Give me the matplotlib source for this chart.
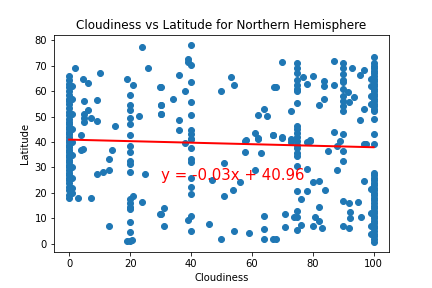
import numpy as np
import matplotlib
matplotlib.use("Agg")
import matplotlib.pyplot as plt

# Cloudiness (%) and latitude, grouped by column
cloud_0 = [0]*42 + [1]*10
lat_0 = [66, 64.5, 63, 61.5, 60, 58.5, 57, 56, 55, 53.5, 52, 50.5, 49, 48, 47, 46,
         45, 44, 43, 42, 41, 40, 39, 38, 37, 36, 35, 34, 33, 32, 31, 30, 29, 28,
         27, 26, 25, 24, 22.5, 21, 19, 18,
         62, 57, 51, 45, 40, 35, 30, 26, 22, 20]

cloud_20 = [19, 21, 20, 20, 20, 20, 20, 20, 20, 20, 20, 20, 20, 21, 20, 20, 20, 20,
            20, 20, 19, 20, 20.5]
lat_20 = [64.8, 62.6, 58.7, 54.7, 52.8, 49.5, 47.1, 42.9, 38.6, 35.9, 32.7, 31.4,
          28.1, 18.9, 17.6, 16, 14.5, 13.5, 8.4, 4.5, 1.2, 1.2, 1.5]

cloud_40 = [40, 39, 39, 40, 40, 40, 40, 40, 40, 40, 40, 38, 40, 40, 40, 40, 40, 40,
            40, 39, 40]
lat_40 = [78.2, 72.7, 71.4, 70.3, 63.8, 55.9, 50.7, 44.9, 43, 41.3, 41.2, 39.6,
          37.7, 33.3, 32.3, 25.7, 22.2, 19.6, 11, 9.4, 5]

cloud_75 = [75]*22
lat_75 = [71.3, 69, 67, 64.5, 62.5, 61, 60.2, 55.2, 46.5, 45, 43.5, 42, 40.6, 39,
          37.5, 35.6, 34.6, 30.7, 20.9, 13, 10.4, 5.4]

cloud_90 = [90, 90, 90, 90, 90, 90, 90, 90, 90, 90, 90, 89, 88, 90, 90, 88, 90, 90]
lat_90 = [71.1, 69, 66.9, 64.6, 63.5, 60.8, 58, 56, 54, 52.4, 43.3, 40.6, 38.6,
          36.6, 32.7, 29, 16.9, 6.8]

cloud_100 = [100]*52 + [99, 99, 99, 99, 99, 99, 99, 99, 97, 97, 97]
lat_100 = [73.6, 71, 70, 69, 68, 67, 66, 65, 64, 63, 62, 61, 60, 59, 58, 57, 56,
           55, 54, 53, 52.4, 49, 43, 39.3, 28, 27, 26, 25, 24, 23, 22, 21, 20, 19,
           18, 17, 16, 15, 14, 13, 12, 11, 10, 9, 8, 7, 6, 5, 4, 3, 2, 0.5,
           65, 62, 58, 55, 21.5, 7, 4, 12, 68.4, 53, 39.3]

cloud_other = [2, 4.6, 6.2, 10, 4.8, 9, 6.2, 5, 5, 5, 7.3, 9.2, 15.1, 23, 24, 26,
               3.8, 29.7, 30, 30, 4.6, 4, 13.9, 13.1, 13.1, 11.2, 9.2, 25, 3, 7.3,
               24, 29.7, 13.1,
               36, 30.3, 38.2, 34.1, 30.3, 30.3, 36, 36, 53.1, 54.1, 50, 63.9, 62,
               65, 60.9, 62, 58, 66.9, 67.4,
               50.8, 57.8, 57.8, 62, 62.9, 60.9, 56, 53.9, 50.8, 47, 31.1, 30.1,
               31.1, 45.9, 49.9, 54, 59.1, 63.9, 63.9, 64, 67,
               69.8, 76.7, 80, 78, 83.8, 83.8, 86.9, 67.8, 87, 92.8, 95.6, 91.7,
               93.7, 92, 83.8, 82, 72.9, 95.6, 86.9, 79, 73, 67, 70, 70, 73, 78.2,
               79, 85, 97.5, 78.2, 80, 82.2, 78, 76.2, 84, 82, 91.8, 94.8, 92.2,
               92.2, 95.9, 70.8, 73.8, 80.9, 82.2, 83, 80, 76.2, 70.8, 67.8, 91.8,
               96.8]
lat_other = [69.3, 64.9, 63.3, 67.2, 56.3, 56.7, 52.8, 51, 49.5, 47.8, 49.5, 48.4,
             46.5, 50.3, 77.6, 69.2, 42.8, 61.5, 54.7, 51, 37.3, 36.9, 36.9, 33.3,
             29, 28.3, 27.4, 27.4, 18.1, 18.1, 16.5, 11.7, 7.1,
             66.5, 61.8, 60.2, 57, 54.7, 51, 48.7, 44.9, 65.6, 62.5, 60.2, 53, 50.7,
             50.4, 43.6, 41.6, 40.8, 42.8, 61.8,
             31.8, 40.6, 36.2, 41.2, 35.7, 29, 24.1, 21.3, 18.9, 25.2, 13.9, 11.7,
             6.8, 7.7, 1.8, 5.1, 4.2, 11, 5.8, 1.8, 1.8,
             71.5, 65.5, 66.1, 62.9, 63.9, 62.2, 62.6, 61.8, 71.8, 69.2, 66.4, 59.8,
             57.6, 55.9, 57, 54.7, 52.4, 48.7, 44.1, 40.8, 41.2, 42.8, 41.8, 41.5,
             40.2, 40.2, 40.6, 36.3, 39.3, 29.4, 24.4, 24.8, 20.9, 17.6, 21.3, 14.6,
             16, 16.5, 12.3, 10, 10.4, 11.7, 10.4, 10.4, 9.1, 6, 7.1, 7.4, 6.4, 1.8,
             6.3, 24.8]

x = np.array(cloud_0 + cloud_20 + cloud_40 + cloud_75 + cloud_90 + cloud_100 + cloud_other)
y = np.array(lat_0 + lat_20 + lat_40 + lat_75 + lat_90 + lat_100 + lat_other)

# regression shown in the chart
slope = -0.03
intercept = 40.96
regress_values = x * slope + intercept
line_eq = "y = " + str(slope) + "x + " + str(intercept)

plt.figure(figsize=(6, 4), dpi=72)
plt.scatter(x, y)
order = np.argsort(x)
plt.plot(x[order], regress_values[order], "r-", linewidth=2)
plt.annotate(line_eq, (30, 25), fontsize=15, color="red")
plt.title("Cloudiness vs Latitude for Northern Hemisphere")
plt.xlabel("Cloudiness")
plt.ylabel("Latitude")
plt.subplots_adjust(left=0.125, right=0.9, top=0.878, bottom=0.124)
plt.savefig("out.png", dpi=72)
